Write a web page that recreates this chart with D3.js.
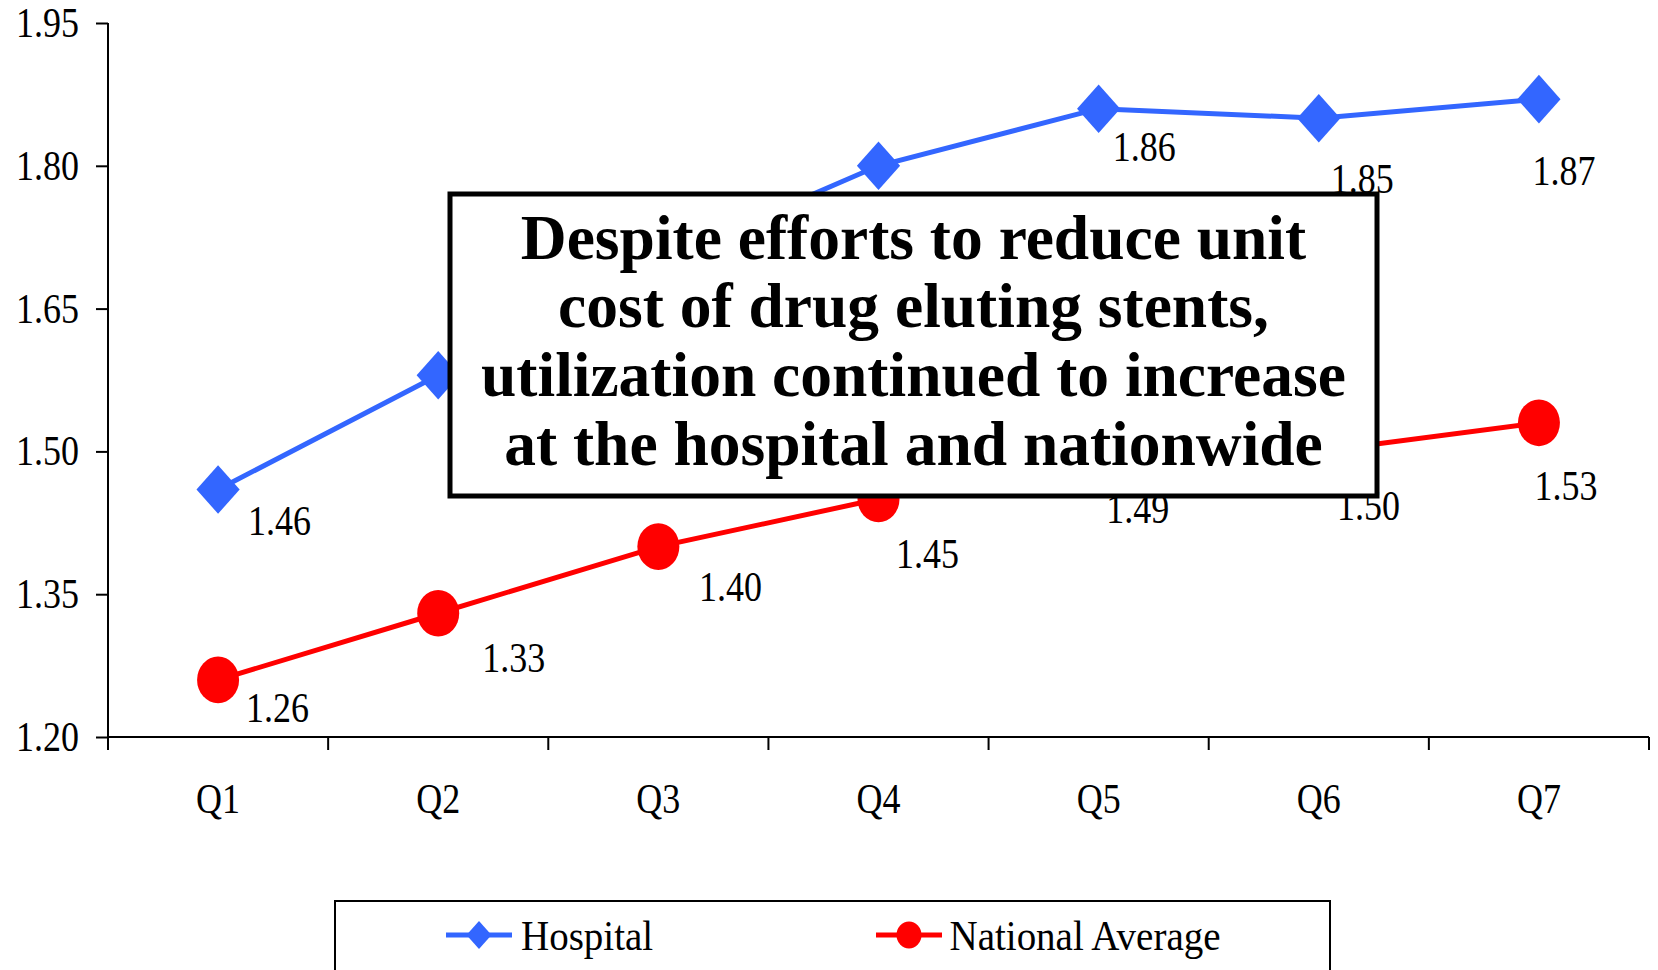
<!DOCTYPE html>
<html>
<head>
<meta charset="utf-8">
<script src="https://cdn.jsdelivr.net/npm/d3@7"></script>
<style>
  html, body { margin: 0; padding: 0; background: #ffffff; }
  svg { display: block; }
</style>
</head>
<body>
<script>
// ---------------- DATA ----------------
const categories = ["Q1", "Q2", "Q3", "Q4", "Q5", "Q6", "Q7"];
const hospital = [1.46, 1.58, 1.70, 1.80, 1.86, 1.85, 1.87];
const national = [1.26, 1.33, 1.40, 1.45, 1.49, 1.50, 1.53];
const seriesNames = ["Hospital", "National Average"];
const yTicks = [1.20, 1.35, 1.50, 1.65, 1.80, 1.95];
const annotationLines = [
  "Despite efforts to reduce unit",
  "cost of drug eluting stents,",
  "utilization continued to increase",
  "at the hospital and nationwide"
];

// ---------------- LAYOUT / STYLE ----------------
const W = 1658, H = 970;
const FONT = "'Liberation Serif', 'Times New Roman', serif";
const BLUE = "#3366FF", RED = "#FF0000";
const plot = { left: 108, right: 1649, top: 23, bottom: 737 };
// data-label offsets (left edge / baseline relative to the point)
const hospLabelOff = [[30, 45.5], [30, 50], [30, 50], [25, 75], [14, 52.6], [12, 75], [-6.5, 86]];
const natLabelOff = [[28, 42], [44, 59], [40.6, 54.4], [17.6, 69], [7.6, 62], [18.3, 68.6], [-4.5, 77]];
const STRETCH = 1.15;

const svg = d3.select("body").append("svg")
  .attr("width", W).attr("height", H)
  .style("background", "#fff");

const x = d3.scaleBand().domain(categories).range([plot.left, plot.right]).padding(0);
const y = d3.scaleLinear().domain([1.20, 1.95]).range([plot.bottom, plot.top]);
const cx = c => x(c) + x.bandwidth() / 2;

function stext(g, tx, ty, str, size, anchor, sy) {
  return g.append("text")
    .attr("transform", `translate(${tx},${ty}) scale(1,${sy})`)
    .attr("font-family", FONT)
    .attr("font-size", size)
    .attr("text-anchor", anchor)
    .attr("fill", "#000")
    .text(str);
}

// ---------------- AXES ----------------
const yAxis = svg.append("g").attr("transform", `translate(${plot.left},0)`)
  .call(d3.axisLeft(y).tickValues(yTicks).tickSize(12).tickFormat(""));
yAxis.selectAll("path, line").attr("stroke", "#000").attr("stroke-width", 2);
yAxis.select("path").attr("d", `M0,${plot.top}V${plot.bottom}`);

const xAxis = svg.append("g").attr("transform", `translate(0,${plot.bottom})`)
  .call(d3.axisBottom(x).tickSize(0).tickFormat(""));
xAxis.selectAll("path").attr("stroke", "#000").attr("stroke-width", 2)
  .attr("d", `M${plot.left},0H${plot.right}`);
xAxis.selectAll(".tick").remove();
// boundary ticks between categories
const bounds = categories.map(c => x(c)).concat([plot.right]);
svg.append("g").selectAll("line").data(bounds).join("line")
  .attr("x1", d => d).attr("x2", d => d)
  .attr("y1", plot.bottom).attr("y2", plot.bottom + 13)
  .attr("stroke", "#000").attr("stroke-width", 2);

const yLab = svg.append("g");
yTicks.forEach(t => stext(yLab, 79, y(t) + 14, t.toFixed(2), 36, "end", STRETCH));

const xLab = svg.append("g");
categories.forEach(c => stext(xLab, cx(c), 813, c, 36, "middle", STRETCH));

// ---------------- SERIES ----------------
const line = d3.line().x((d, i) => cx(categories[i])).y(d => y(d));
svg.append("path").datum(hospital).attr("d", line)
  .attr("fill", "none").attr("stroke", BLUE).attr("stroke-width", 5);
svg.append("path").datum(national).attr("d", line)
  .attr("fill", "none").attr("stroke", RED).attr("stroke-width", 5);

const diamond = (w, h) => `M0,${-h}L${w},0L0,${h}L${-w},0Z`;
svg.append("g").selectAll("path").data(hospital).join("path")
  .attr("transform", (d, i) => `translate(${cx(categories[i])},${y(d)})`)
  .attr("d", diamond(21.6, 24.3)).attr("fill", BLUE);
svg.append("g").selectAll("ellipse").data(national).join("ellipse")
  .attr("cx", (d, i) => cx(categories[i])).attr("cy", d => y(d))
  .attr("rx", 21).attr("ry", 23.3).attr("fill", RED);

const dl = svg.append("g");
hospital.forEach((v, i) => stext(dl, cx(categories[i]) + hospLabelOff[i][0], y(v) + hospLabelOff[i][1], v.toFixed(2), 36, "start", STRETCH));
national.forEach((v, i) => stext(dl, cx(categories[i]) + natLabelOff[i][0], y(v) + natLabelOff[i][1], v.toFixed(2), 36, "start", STRETCH));

// ---------------- ANNOTATION BOX ----------------
const box = { x0: 450, x1: 1377, y0: 194, y1: 496 };
const ann = svg.append("g");
ann.append("rect")
  .attr("x", box.x0).attr("y", box.y0)
  .attr("width", box.x1 - box.x0).attr("height", box.y1 - box.y0)
  .attr("fill", "#fff").attr("stroke", "#000").attr("stroke-width", 5);
annotationLines.forEach((t, i) => {
  ann.append("text")
    .attr("x", (box.x0 + box.x1) / 2).attr("y", 258.5 + i * 68.9)
    .attr("font-family", FONT).attr("font-size", 63.5).attr("font-weight", "bold")
    .attr("text-anchor", "middle").attr("fill", "#000").text(t);
});

// ---------------- LEGEND ----------------
const leg = svg.append("g");
leg.append("rect").attr("x", 335).attr("y", 901).attr("width", 995).attr("height", 120)
  .attr("fill", "#fff").attr("stroke", "#000").attr("stroke-width", 2);
const legItems = [
  { name: seriesNames[0], color: BLUE, x0: 446, x1: 512, tx: 521, shape: "diamond" },
  { name: seriesNames[1], color: RED, x0: 876, x1: 942, tx: 949.5, shape: "circle" }
];
const legY = 935;
legItems.forEach(it => {
  leg.append("line").attr("x1", it.x0).attr("x2", it.x1).attr("y1", legY).attr("y2", legY)
    .attr("stroke", it.color).attr("stroke-width", 5);
  const mx = (it.x0 + it.x1) / 2;
  if (it.shape === "diamond") {
    leg.append("path").attr("transform", `translate(${mx},${legY})`)
      .attr("d", diamond(12.5, 14)).attr("fill", it.color);
  } else {
    leg.append("ellipse").attr("cx", mx).attr("cy", legY).attr("rx", 12.5).attr("ry", 13.5)
      .attr("fill", it.color);
  }
  stext(leg, it.tx, 950, it.name, 39, "start", 1.08);
});
</script>
</body>
</html>
